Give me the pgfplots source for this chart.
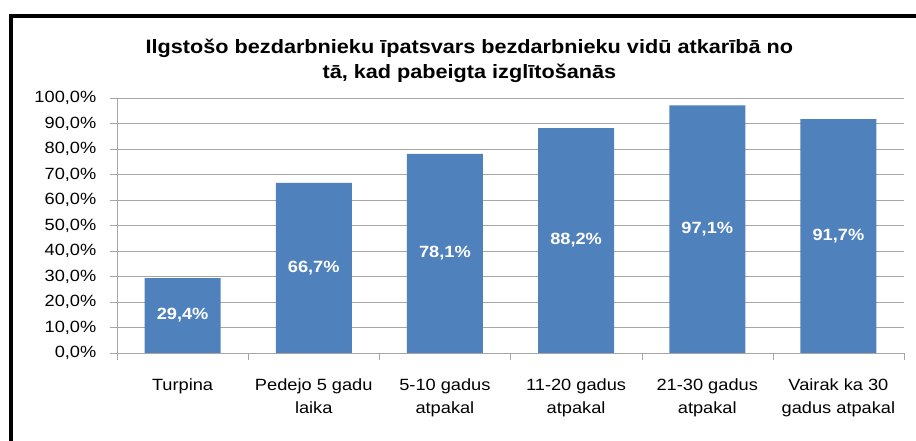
\documentclass[border=0pt]{standalone}
\usepackage{pgfplots}
\pgfplotsset{compat=1.18}
\usepackage{pgfplotstable}
\usepackage{fontspec}
\setmainfont{Liberation Sans}[FakeStretch=1.12]
\definecolor{barblue}{HTML}{4F81BD}
\definecolor{gridgray}{HTML}{A6A6A6}
\pgfplotstableread{
x v
0 29.4
1 66.7
2 78.1
3 88.2
4 97.1
5 91.7
}\data
\begin{document}
\begin{tikzpicture}
\useasboundingbox (0,0) rectangle (687pt,330.75pt);
\begin{scope}
\clip (0,0) rectangle (687pt,330.75pt);
\draw[line width=3pt,black] (8.25pt,-5pt) -- (8.25pt,318.75pt) -- (700pt,318.75pt);
\end{scope}
\node[font=\bfseries\fontsize{14.5}{17}\selectfont] at (352pt,294.75pt) {Ilgstošo bezdarbnieku īpatsvars bezdarbnieku vidū atkarībā no};
\node[font=\bfseries\fontsize{14.5}{17}\selectfont] at (352pt,276pt) {tā, kad pabeigta izglītošanās};
\begin{axis}[
  at={(87.75pt,66pt)}, anchor=south west,
  scale only axis, width=590.25pt, height=191.25pt,
  xmin=-0.5, xmax=5.5, ymin=0, ymax=100,
  axis lines*=left,
  axis line style={gridgray},
  ybar, bar width=57pt, bar shift=0pt,
  ytick={0,10,...,100},
  ymajorgrids, grid style={gridgray, line width=0.6pt},
  tick align=outside,
  major tick length=5pt,
  tick style={gridgray},
  xtick={0,...,5},
  x tick style={draw=none},
  xticklabels={Turpina, Pedejo 5 gadu\\laika, 5-10 gadus\\atpakal, 11-20 gadus\\atpakal, 21-30 gadus\\atpakal, Vairak ka 30\\gadus atpakal},
  xticklabel style={align=center, font=\fontsize{12.2}{17.3}\selectfont, yshift=-10.5pt},
  extra x ticks={-0.5,0.5,...,5.5},
  extra x tick labels={},
  extra x tick style={x tick style={draw=gridgray}, major tick length=5pt},
  yticklabel={\pgfmathprintnumber[fixed,fixed zerofill,precision=1,use comma]{\tick}\%},
  yticklabel style={font=\fontsize{12.2}{14}\selectfont, xshift=-7pt},
  /pgf/number format/assume math mode=true,
]
\addplot[fill=barblue, draw=none] table[x=x,y=v] {\data};
\addplot[draw=none, mark=none, only marks, nodes near coords={\pgfmathprintnumber[fixed,fixed zerofill,precision=1,use comma,assume math mode=true]{\pgfplotspointmeta}\%},
  nodes near coords align={center},
  every node near coord/.append style={anchor=center, text=white, font=\bfseries\fontsize{12.2}{14}\selectfont},
  point meta=explicit] table[x=x, y expr=\thisrow{v}/2, meta=v] {\data};
\end{axis}
\end{tikzpicture}
\end{document}
